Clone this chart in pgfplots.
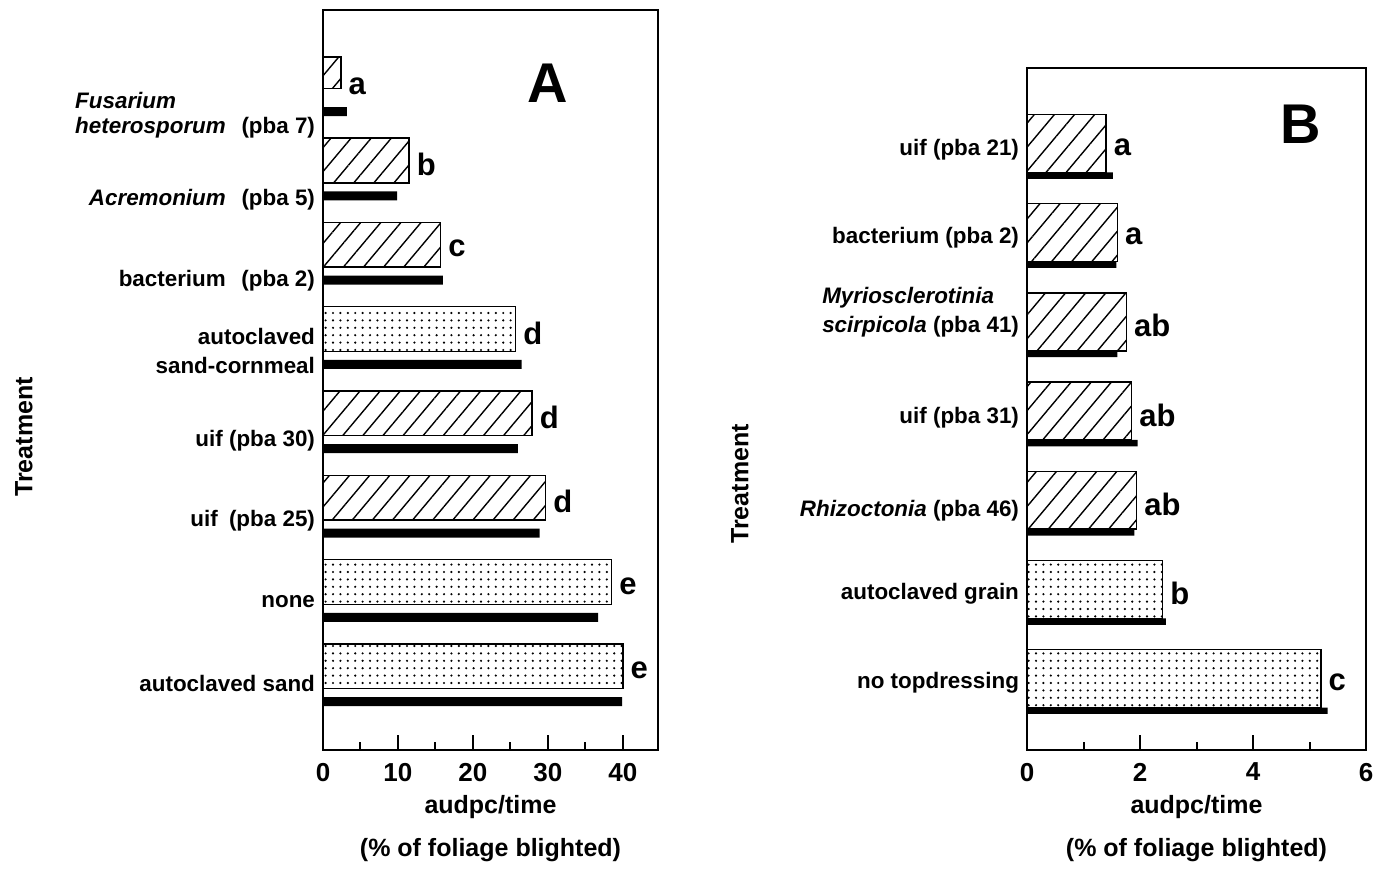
\documentclass[border=0pt]{standalone}
\usepackage{fontspec}
\setmainfont{Liberation Sans}
\usepackage{pgfplots}
\pgfplotsset{compat=1.18}
\usetikzlibrary{patterns.meta}

\newcommand{\lb}{\fontsize{11.2}{12.5}\selectfont\bfseries}
\newcommand{\tk}{\fontsize{13}{14}\selectfont\bfseries}
\newcommand{\ttl}{\fontsize{12.5}{15}\selectfont\bfseries}
\newcommand{\ltr}{\fontsize{15.5}{15.5}\selectfont\bfseries}

\pgfplotsset{
  panel/.style={
    scale only axis, clip=false, y dir=reverse, xmin=0,
    axis line style={line width=1pt},
    tick align=inside, xtick pos=lower, ytick pos=left,
    major tick length=7.5pt, minor tick length=4pt,
    xtick style={black, line width=1pt},
    ytick style={draw=none},
    /pgf/number format/assume math mode=true,
    xticklabel style={font=\tk, yshift=-3pt},
    yticklabel style={font=\lb, align=right, xshift=-0.5pt},
    xlabel style={font=\ttl, align=center},
  },
  hatch/.style={xbar, bar shift=0pt, draw=black, line width=0.75pt,
    pattern={Lines[angle=50, distance=7.7pt, line width=0.7pt]}},
  dotted/.style={xbar, bar shift=0pt, draw=black, line width=0.75pt,
    pattern={Dots[distance=3.7pt, radius=0.6pt]}},
  solidbar/.style={xbar, bar shift=0pt, draw=none, fill=black},
  letters/.style={nodes near coords, point meta=explicit symbolic,
    nodes near coords style={font=\ltr, anchor=west, inner sep=1pt, xshift=2.5pt, yshift=-2pt}},
}

\begin{document}
\begin{tikzpicture}
\useasboundingbox (0,0) rectangle (693pt,434pt);

% ---------------- Panel A ----------------
\begin{axis}[panel, at={(161.5pt,59pt)}, anchor=south west,
  width=167.5pt, height=370pt,
  xmax=44.7, ymin=0.0154, ymax=8.794,
  xtick={0,10,20,30,40}, minor xtick={5,15,25,35},
  ytick={1.27,2.27,3.23,4.06,5.13,6.07,7.03,8.0},
  yticklabels={
    {\begin{tabular}{@{}l@{}}\textit{Fusarium}\\ \textit{heterosporum}\hspace{0.7em}(pba 7)\end{tabular}},
    {\textit{Acremonium}\hspace{0.7em}(pba 5)},
    {bacterium\hspace{0.7em}(pba 2)},
    {autoclaved\\[2pt]sand-cornmeal},
    {uif (pba 30)},
    {uif\hspace{0.5em}(pba 25)},
    {none},
    {autoclaved sand}},
  xlabel={audpc/time\\[6.5pt](\% of foliage blighted)},
]
% narrow first hatched bar
\addplot[hatch, bar width=0.37, letters,
  nodes near coords style={yshift=-5pt}] table[x=v, y=p, meta=l] {
v p l
2.4 0.76 a
};
\addplot[hatch, bar width=0.53, letters] table[x=v, y=p, meta=l] {
v p l
11.5 1.8 b
15.7 2.8 c
27.9 4.8 d
29.7 5.8 d
};
\addplot[dotted, bar width=0.53, letters] table[x=v, y=p, meta=l] {
v p l
25.7 3.8 d
38.5 6.8 e
40.0 7.8 e
};
\addplot[solidbar, bar width=0.107] table[x=v, y=p] {
v p
3.2 1.22
9.9 2.22
16.0 3.22
26.5 4.22
26.0 5.22
28.9 6.22
36.7 7.22
39.9 8.22
};
\node[font=\fontsize{28}{28}\selectfont\bfseries] at (axis cs:30.0,0.89) {A};
\end{axis}

% ---------------- Panel B ----------------
\begin{axis}[panel, at={(513.5pt,59pt)}, anchor=south west,
  width=169.5pt, height=341pt,
  xmax=6, ymin=0.154, ymax=7.80,
  xtick={0,2,4,6}, minor xtick={1,3,5},
  ytick={1.07,2.06,2.90,4.08,5.12,6.05,7.05},
  yticklabels={
    {uif (pba 21)},
    {bacterium (pba 2)},
    {\begin{tabular}{@{}l@{}}\textit{Myriosclerotinia}\\[2pt] \textit{scirpicola} (pba 41)\end{tabular}},
    {uif (pba 31)},
    {\textit{Rhizoctonia} (pba 46)},
    {autoclaved grain},
    {no topdressing}},
  xlabel={audpc/time\\[6.5pt](\% of foliage blighted)},
]
\addplot[hatch, bar width=0.65, letters] table[x=v, y=p, meta=l] {
v p l
1.40 1 a
1.60 2 a
1.76 3 ab
1.85 4 ab
1.94 5 ab
};
\addplot[dotted, bar width=0.65, letters] table[x=v, y=p, meta=l] {
v p l
2.40 6 b
5.20 7 c
};
\addplot[solidbar, bar width=0.072] table[x=v, y=p] {
v p
1.52 1.36
1.58 2.36
1.60 3.36
1.96 4.36
1.90 5.36
2.46 6.36
5.32 7.36
};
\node[font=\fontsize{28}{28}\selectfont\bfseries] at (axis cs:4.85,0.787) {B};
\end{axis}

\node[rotate=90, font=\ttl] at (12pt,215.5pt) {Treatment};
\node[rotate=90, font=\ttl] at (370pt,192pt) {Treatment};
\end{tikzpicture}
\end{document}
